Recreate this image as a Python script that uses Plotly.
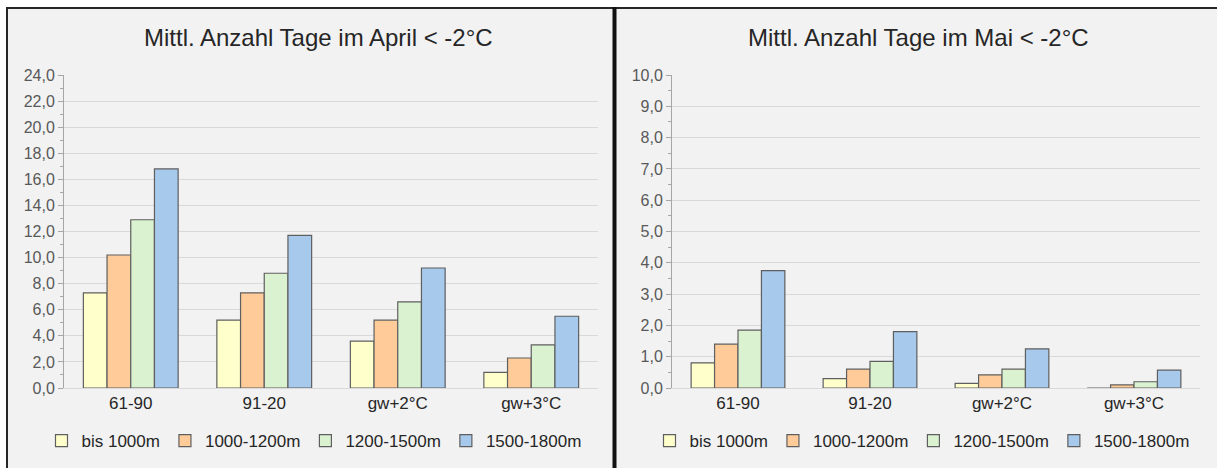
import plotly.graph_objects as go

categories = ["61-90", "91-20", "gw+2°C", "gw+3°C"]
series_names = ["bis 1000m", "1000-1200m", "1200-1500m", "1500-1800m"]

april_bis1000 = [7.3, 5.2, 3.6, 1.2]
april_1000_1200 = [10.2, 7.3, 5.2, 2.3]
april_1200_1500 = [12.9, 8.8, 6.6, 3.3]
april_1500_1800 = [16.8, 11.7, 9.2, 5.5]

mai_bis1000 = [0.8, 0.3, 0.15, 0.0]
mai_1000_1200 = [1.4, 0.6, 0.42, 0.1]
mai_1200_1500 = [1.85, 0.85, 0.6, 0.2]
mai_1500_1800 = [3.75, 1.8, 1.25, 0.57]

title_left = "Mittl. Anzahl Tage im April < -2°C"
title_right = "Mittl. Anzahl Tage im Mai < -2°C"

colors = ["#FFFFCC", "#FFCC99", "#DAF2D0", "#A6C9EC"]
FONT = "Liberation Sans, Arial, sans-serif"
W, H = 1217, 468

fig = go.Figure()

april = [april_bis1000, april_1000_1200, april_1200_1500, april_1500_1800]
mai = [mai_bis1000, mai_1000_1200, mai_1200_1500, mai_1500_1800]

for name, vals, c in zip(series_names, april, colors):
    fig.add_trace(go.Bar(x=categories, y=vals, name=name, marker=dict(color=c, line=dict(color="#5f5f5f", width=1.2)),
                         xaxis="x", yaxis="y", legend="legend"))
for name, vals, c in zip(series_names, mai, colors):
    fig.add_trace(go.Bar(x=categories, y=vals, name=name, marker=dict(color=c, line=dict(color="#5f5f5f", width=1.2)),
                         xaxis="x2", yaxis="y2", legend="legend2"))

def px_x(p):
    return p / W

def px_y(p):
    return (H - p) / H

y0, y1 = px_y(388), px_y(75)

yax_common = dict(
    showgrid=True, gridcolor="#d9d9d9", gridwidth=1,
    showline=True, linecolor="#a6a6a6", linewidth=1,
    ticks="outside", ticklen=5, tickcolor="#a6a6a6",
    tickformat=".1f", tickfont=dict(family=FONT, size=16, color="#595959"),
    zeroline=False, fixedrange=True, automargin=False,
)
xax_common = dict(
    showline=True, linecolor="#d9d9d9", ticks="", fixedrange=True, automargin=False,
    tickfont=dict(family=FONT, size=17, color="#262626"),
)
leg_common = dict(
    orientation="h", xanchor="center", yanchor="middle", xref="paper", yref="paper",
    bgcolor="rgba(0,0,0,0)", font=dict(family=FONT, size=17, color="#262626"),
    itemwidth=30, tracegroupgap=0,
)

fig.update_layout(
    template="none",
    autosize=False,
    width=W, height=H,
    margin=dict(l=0, r=0, t=0, b=0, pad=0),
    paper_bgcolor="white", plot_bgcolor="white",
    separators=",.",
    barmode="group", bargap=0.29, bargroupgap=0,
    font=dict(family=FONT, color="#262626"),
    xaxis=dict(domain=[px_x(64), px_x(598)], anchor="y", **xax_common),
    yaxis=dict(domain=[y0, y1], anchor="x", range=[0, 24], dtick=2,
               minor=dict(dtick=1, ticks="outside", ticklen=3, tickcolor="#a6a6a6", showgrid=False),
               **yax_common),
    xaxis2=dict(domain=[px_x(672), px_x(1200)], anchor="y2", **xax_common),
    yaxis2=dict(domain=[y0, y1], anchor="x2", range=[0, 10], dtick=1,
                minor=dict(dtick=0.5, ticks="outside", ticklen=3, tickcolor="#a6a6a6", showgrid=False),
                **yax_common),
    legend=dict(x=px_x(314), y=px_y(441), **leg_common),
    legend2=dict(x=px_x(922), y=px_y(441), **leg_common),
    shapes=[
        dict(type="rect", xref="paper", yref="paper", x0=px_x(7), x1=px_x(614), y0=-0.05, y1=px_y(8),
             fillcolor="#f2f2f2", line=dict(color="#262626", width=2), layer="below"),
        dict(type="rect", xref="paper", yref="paper", x0=px_x(615), x1=px_x(1222), y0=-0.05, y1=px_y(8),
             fillcolor="#f2f2f2", line=dict(color="#262626", width=2), layer="below"),
        dict(type="line", xref="paper", yref="paper", x0=px_x(614.5), x1=px_x(614.5), y0=-0.05, y1=px_y(7),
             line=dict(color="#111111", width=4)),
    ],
    annotations=[
        dict(text=title_left, xref="paper", yref="paper", x=px_x(318), y=px_y(37), xanchor="center",
             yanchor="middle", showarrow=False, font=dict(family=FONT, size=24, color="#262626")),
        dict(text=title_right, xref="paper", yref="paper", x=px_x(918), y=px_y(37), xanchor="center",
             yanchor="middle", showarrow=False, font=dict(family=FONT, size=24, color="#262626")),
    ],
)

fig.write_html("out.html")
